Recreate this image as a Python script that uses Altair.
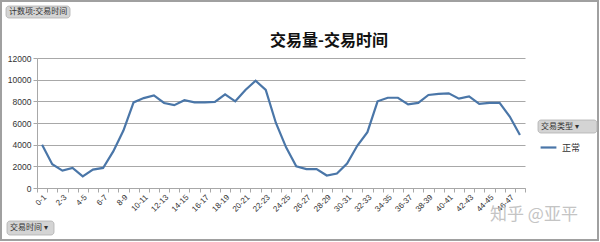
import altair as alt
import pandas as pd

# ---- data ----
time_slots = ["0-1", "1-2", "2-3", "3-4", "4-5", "5-6", "6-7", "7-8", "8-9", "9-10",
              "10-11", "11-12", "12-13", "13-14", "14-15", "15-16", "16-17", "17-18",
              "18-19", "19-20", "20-21", "21-22", "22-23", "23-24", "24-25", "25-26",
              "26-27", "27-28", "28-29", "29-30", "30-31", "31-32", "32-33", "33-34",
              "34-35", "35-36", "36-37", "37-38", "38-39", "39-40", "40-41", "41-42",
              "42-43", "43-44", "44-45", "45-46", "46-47", "47-48"]
counts = [4000, 2200, 1600, 1850, 1080, 1700, 1850, 3380, 5300, 7900,
          8300, 8550, 7850, 7650, 8100, 7900, 7900, 7950, 8650, 8000,
          9050, 9900, 9050, 6000, 3750, 2000, 1750, 1750, 1150, 1330,
          2250, 3900, 5150, 8000, 8330, 8330, 7720, 7850, 8590, 8680,
          8740, 8250, 8460, 7760, 7850, 7850, 6600, 4900]
series_type = ["正常"] * len(time_slots)
y_ticks = [0, 2000, 4000, 6000, 8000, 10000, 12000]

df = pd.DataFrame({"time": time_slots, "count": counts, "type": series_type})

LINE = "#4a76a8"
GRID = "#a8a8a8"
TXT = "#333333"
CJK = "Noto Sans CJK SC"
LAT = "Liberation Sans"

line = alt.Chart(df).mark_line(strokeWidth=2.2).encode(
    x=alt.X("time:N", sort=time_slots, bandPosition=0.5,
            scale=alt.Scale(type="band", paddingInner=0, paddingOuter=0),
            axis=alt.Axis(title=None, labelAngle=-45, labelFontSize=8, labelFont=LAT,
                          labelColor=TXT, labelPadding=1, tickBand="extent",
                          tickSize=4, tickColor=GRID, domainColor=GRID, grid=False,
                          labelOverlap=False,
                          labelExpr="parseInt(datum.value) % 2 == 0 ? datum.value : ''")),
    y=alt.Y("count:Q", scale=alt.Scale(domain=[0, 12000], nice=False),
            axis=alt.Axis(title=None, values=y_ticks, format="d", labelFontSize=8.5,
                          labelFont=LAT, labelColor=TXT, tickSize=4, tickColor=GRID,
                          domainColor=GRID, gridColor=GRID, gridWidth=1, labelPadding=2)),
    color=alt.Color("type:N", scale=alt.Scale(range=[LINE]),
                    legend=alt.Legend(title=None, orient="none", legendX=502, legendY=80,
                                      symbolType="stroke", symbolStrokeWidth=2.2,
                                      symbolSize=250, labelFont=CJK, labelFontSize=9,
                                      labelColor=TXT, padding=0)),
)

one = pd.DataFrame({"k": [0]})
base = alt.Chart(one)

# outer border
border = base.mark_rect(fill=None, stroke="#a0a0a0", strokeWidth=2).encode(
    x=alt.value(-36), x2=alt.value(561), y=alt.value(-57), y2=alt.value(182))

# title
title = base.mark_text(text="交易量-交易时间", font=CJK, fontSize=16, fontWeight=600,
                       color="#111111", align="center", baseline="alphabetic").encode(
    x=alt.value(292), y=alt.value(-12))

# gray buttons
btn_style = dict(fill="#d4d4d4", stroke="#b0b0b0", strokeWidth=0.8, cornerRadius=3)
btn1 = base.mark_rect(**btn_style).encode(x=alt.value(-31), x2=alt.value(33),
                                          y=alt.value(-52), y2=alt.value(-40))
btn1t = base.mark_text(text="计数项:交易时间", font=CJK, fontSize=8, color="#333",
                       align="left", baseline="middle").encode(x=alt.value(-28), y=alt.value(-46))
btn2 = base.mark_rect(**btn_style).encode(x=alt.value(-30), x2=alt.value(17),
                                          y=alt.value(163), y2=alt.value(177))
btn2t = base.mark_text(text="交易时间  ▾", font=CJK, fontSize=8, color="#333",
                       align="left", baseline="middle").encode(x=alt.value(-27), y=alt.value(170))
btn3 = base.mark_rect(**btn_style).encode(x=alt.value(501), x2=alt.value(560),
                                          y=alt.value(62), y2=alt.value(75))
btn3t = base.mark_text(text="交易类型   ▾", font=CJK, fontSize=8, color="#333",
                       align="left", baseline="middle").encode(x=alt.value(504), y=alt.value(68.5))

# watermark
wm = base.mark_text(text="知乎 @亚平", font=CJK, fontSize=17, color="#c4c4c4",
                    align="left", baseline="middle").encode(x=alt.value(453), y=alt.value(157))

chart = alt.layer(line, border, title, btn1, btn1t, btn2, btn2t, btn3, btn3t, wm).properties(
    width=488, height=130,
    padding={"left": 37, "top": 58, "right": 75, "bottom": 54},
    autosize=alt.AutoSizeParams(type="none"),
    background="white",
).configure_view(stroke=None)

chart.save("out.html", embed_options={"renderer": "svg", "actions": False})
